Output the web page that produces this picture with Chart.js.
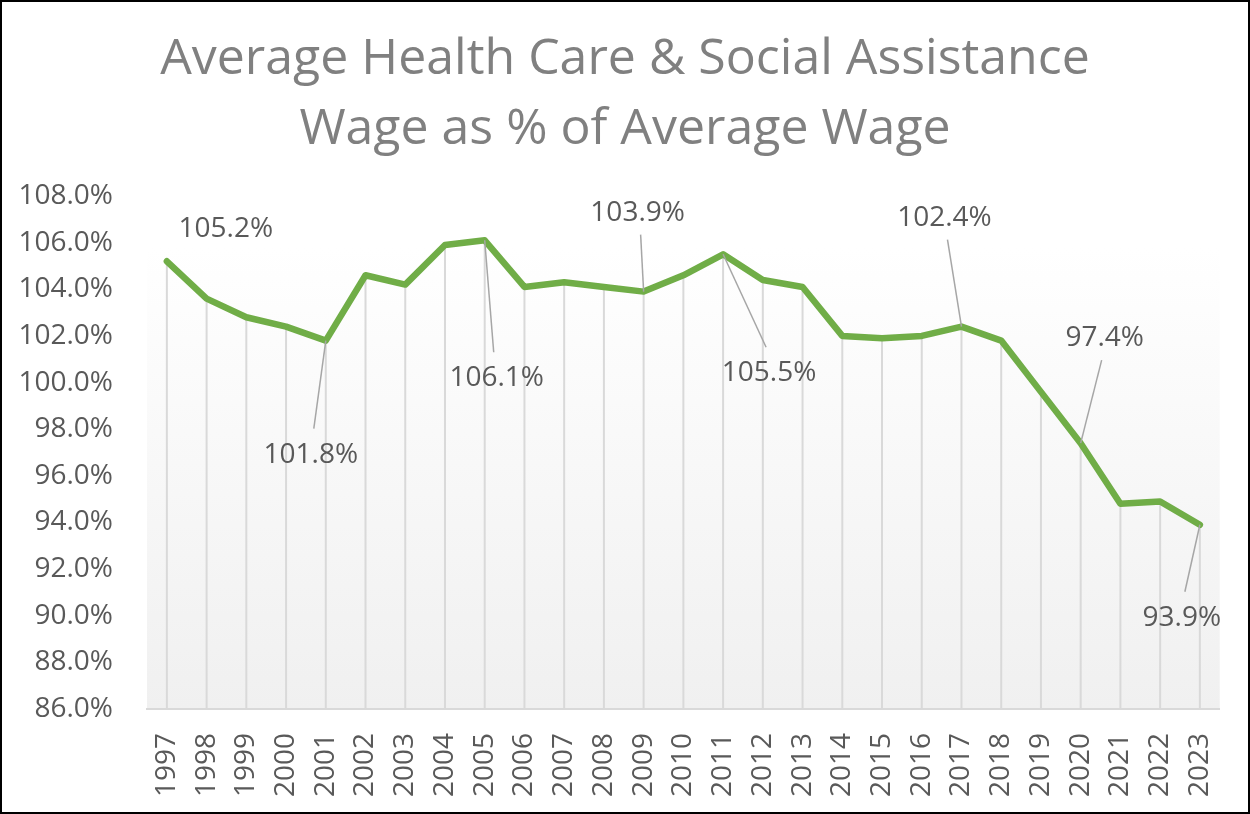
<!DOCTYPE html>
<html>
<head>
<meta charset="utf-8">
<script src="https://cdn.jsdelivr.net/npm/chart.js@4.4.1/dist/chart.umd.min.js"></script>
<style>
  html, body { margin: 0; padding: 0; background: #ffffff; }
  canvas { display: block; }
</style>
</head>
<body>
<canvas id="wageChart" width="1250" height="814"></canvas>
<script>
const years = ['1997', '1998', '1999', '2000', '2001', '2002', '2003', '2004', '2005',
  '2006', '2007', '2008', '2009', '2010', '2011', '2012', '2013', '2014', '2015',
  '2016', '2017', '2018', '2019', '2020', '2021', '2022', '2023'];

const wageShare = [105.2, 103.6, 102.8, 102.4, 101.8, 104.6, 104.2, 105.9, 106.1,
  104.1, 104.3, 104.1, 103.9, 104.6, 105.5, 104.4, 104.1, 102.0, 101.9,
  102.0, 102.4, 101.8, 99.6, 97.4, 94.8, 94.9, 93.9];

// which points get a data label
const labelledYears = ['1997', '2001', '2005', '2009', '2011', '2017', '2020', '2023'];

// label placement relative to its point (px), leader line or not
const labelOffsets = [
  [59, -32, false],
  [-15, 114, true],
  [12, 138, true],
  [-6, -79, true],
  [46, 119, true],
  [-17, -109, true],
  [24, -105, true],
  [-18, 93, true]
];

const FONT = "'Open Sans', 'DejaVu Sans', sans-serif";
const TEXT_GREY = '#595959';


// ======================
// PLUGINS
// ======================

const plotBackground = {
  id: 'plotBackground',
  beforeDraw(chart) {
    const { ctx, chartArea: a } = chart;
    const grad = ctx.createLinearGradient(0, a.top, 0, a.bottom);
    grad.addColorStop(0, '#ffffff');
    grad.addColorStop(0.1, '#ffffff');
    grad.addColorStop(1, '#f0f0f0');
    ctx.save();
    ctx.fillStyle = grad;
    ctx.fillRect(a.left, a.top, a.right - a.left, a.bottom - a.top);
    ctx.restore();
  }
};

const dropLines = {
  id: 'dropLines',
  beforeDatasetsDraw(chart) {
    const { ctx, chartArea: a } = chart;
    const meta = chart.getDatasetMeta(0);
    ctx.save();
    ctx.strokeStyle = '#d9d9d9';
    ctx.lineWidth = 2;
    meta.data.forEach(pt => {
      ctx.beginPath();
      ctx.moveTo(pt.x, pt.y);
      ctx.lineTo(pt.x, a.bottom);
      ctx.stroke();
    });
    ctx.restore();
  }
};

const pointLabels = {
  id: 'pointLabels',
  afterDatasetsDraw(chart) {
    const { ctx } = chart;
    const meta = chart.getDatasetMeta(0);
    ctx.save();
    ctx.font = '28px ' + FONT;
    ctx.textAlign = 'center';
    ctx.textBaseline = 'middle';
    labelledYears.forEach((yr, i) => {
      const idx = years.indexOf(yr);
      const pt = meta.data[idx];
      const [dx, dy, leader] = labelOffsets[i];
      const lx = pt.x + dx;
      const ly = pt.y + dy;
      if (leader) {
        ctx.strokeStyle = '#a6a6a6';
        ctx.lineWidth = 1.5;
        ctx.beginPath();
        ctx.moveTo(pt.x, pt.y);
        ctx.lineTo(lx + (pt.x > lx ? 3 : -3), dy > 0 ? ly - 26 : ly + 22);
        ctx.stroke();
      }
      ctx.fillStyle = TEXT_GREY;
      ctx.fillText(wageShare[idx].toFixed(1) + '%', lx, ly);
    });
    ctx.restore();
  }
};

const outerBorder = {
  id: 'outerBorder',
  afterDraw(chart) {
    const { ctx, width, height } = chart;
    ctx.save();
    ctx.strokeStyle = '#000000';
    ctx.lineWidth = 2;
    ctx.strokeRect(1, 1, width - 2, height - 2);
    ctx.restore();
  }
};


// ======================
// CHART
// ======================

new Chart(
  document.getElementById('wageChart'),
  {
    type: 'line',

    data: {
      labels: years,

      datasets: [{
        label: 'Wage share',
        data: wageShare,
        borderColor: '#70ad47',
        borderWidth: 6.5,
        borderJoinStyle: 'round',
        borderCapStyle: 'round',
        tension: 0,
        pointRadius: 0,
        fill: false
      }]
    },

    options: {
      responsive: false,
      animation: false,
      devicePixelRatio: 1,
      layout: {
        padding: 0
      },
      plugins: {
        legend: { display: false },
        tooltip: { enabled: false },
        title: {
          display: true,
          text: ['Average Health Care & Social Assistance', 'Wage as % of Average Wage'],
          color: '#808080',
          font: { family: FONT, size: 50, weight: 'normal', lineHeight: 1.4 },
          padding: { top: 25, bottom: 31 }
        }
      },
      scales: {
        x: {
          offset: true,
          grid: { display: false },
          border: { display: true, color: '#d9d9d9', width: 2 },
          ticks: {
            color: TEXT_GREY,
            font: { family: FONT, size: 28 },
            minRotation: 90,
            maxRotation: 90,
            padding: 16,
            autoSkip: false
          },
          afterFit: scale => { scale.height = 105; }
        },
        y: {
          min: 86,
          max: 108,
          grid: { display: false },
          border: { display: false },
          ticks: {
            stepSize: 2,
            color: TEXT_GREY,
            font: { family: FONT, size: 28 },
            padding: 26,
            callback: v => v.toFixed(1) + '%'
          },
          afterFit: scale => { scale.width = 147; }
        },
        // empty right-hand axis, only reserves the right margin
        yRight: {
          position: 'right',
          min: 86,
          max: 108,
          grid: { display: false },
          border: { display: false },
          ticks: { display: false },
          afterFit: scale => { scale.width = 29; }
        }
      }
    },

    plugins: [plotBackground, dropLines, pointLabels, outerBorder]
  }
);
</script>
</body>
</html>
